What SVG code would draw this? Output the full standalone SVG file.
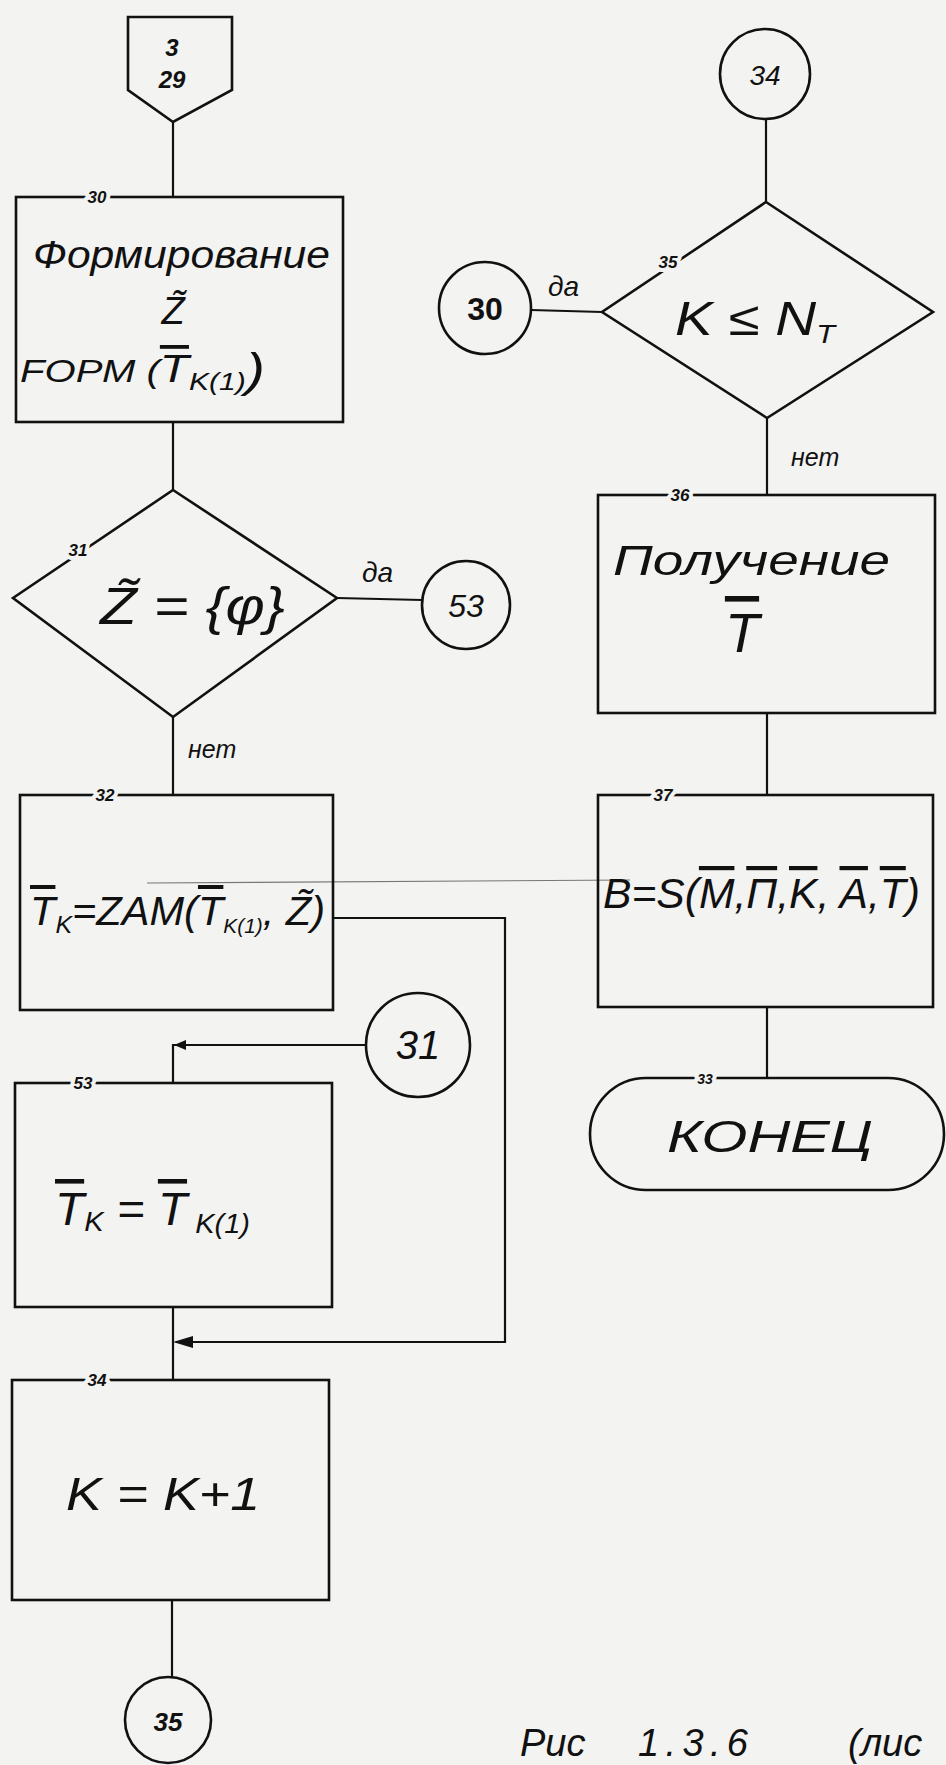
<svg xmlns="http://www.w3.org/2000/svg" width="946" height="1765" viewBox="0 0 946 1765">
<style>
  .bg{fill:#f3f3f1}
  .shape{fill:none;stroke:#111;stroke-width:2.6;stroke-linejoin:miter}
  .line{fill:none;stroke:#111;stroke-width:2.2}
  .stray{fill:none;stroke:#777;stroke-width:1.2}
  text{font-family:"Liberation Sans","DejaVu Sans",sans-serif;font-style:italic;fill:#111}
  .lbl{font-size:17px;font-weight:bold;text-anchor:middle;stroke:#f3f3f1;stroke-width:8px;paint-order:stroke;stroke-linejoin:round}
  .mid{text-anchor:middle}
  .ov{text-decoration:overline}
</style>
<rect class="bg" x="0" y="0" width="946" height="1765"/>

<g id="connectors">
  <line class="line" x1="173" y1="122" x2="173" y2="197"/>
  <line class="line" x1="173" y1="422" x2="173" y2="490"/>
  <line class="line" x1="337" y1="598" x2="422" y2="600"/>
  <line class="line" x1="173" y1="717" x2="173" y2="795"/>
  <path class="line" d="M333,918 H505 V1342 H176"/>
  <path d="M173,1342 L193,1336 L193,1348 Z" fill="#111"/>
  <path class="line" d="M366,1045 H173 V1083"/>
  <path d="M174,1045 L186,1040 L186,1050 Z" fill="#111"/>
  <line class="line" x1="173" y1="1307" x2="173" y2="1380"/>
  <line class="line" x1="172" y1="1600" x2="172" y2="1677"/>
  <line class="line" x1="766" y1="119" x2="766" y2="202"/>
  <line class="line" x1="531" y1="310" x2="602" y2="312"/>
  <line class="line" x1="767" y1="418" x2="767" y2="495"/>
  <line class="line" x1="767" y1="713" x2="767" y2="795"/>
  <line class="line" x1="767" y1="1007" x2="767" y2="1078"/>
  <line class="stray" x1="147" y1="883" x2="630" y2="880"/>
  <text x="362" y="582" font-size="28">да</text>
  <text x="188" y="758" font-size="25">нет</text>
  <text x="548" y="296" font-size="28">да</text>
  <text x="791" y="466" font-size="25">нет</text>
</g>

<g id="n29">
  <path class="shape" d="M128,17 H232 V90 L173,122 L128,90 Z"/>
  <text class="mid" x="172" y="56" font-size="24" font-weight="bold">3</text>
  <text class="mid" x="172" y="88" font-size="24" font-weight="bold">29</text>
</g>

<g id="n30">
  <rect class="shape" x="16" y="197" width="327" height="225"/>
  <text class="lbl" x="97" y="203">30</text>
  <text x="33" y="268" font-size="38" textLength="297" lengthAdjust="spacingAndGlyphs">Формирование</text>
  <text class="mid" x="173" y="324" font-size="38">Z̃</text>
  <text x="20" y="382" font-size="32" textLength="245" lengthAdjust="spacingAndGlyphs">FОРМ (<tspan class="ov" font-size="38">T</tspan><tspan font-size="24" dy="8">K(1)</tspan><tspan font-size="46" dy="-4">)</tspan></text>
</g>

<g id="n31">
  <path class="shape" d="M173,490 L337,598 L173,717 L13,598 Z"/>
  <text class="lbl" x="78" y="556">31</text>
  <text x="100" y="624" font-size="52" textLength="185" lengthAdjust="spacingAndGlyphs">Z̃ = {φ}</text>
</g>

<g id="c53">
  <circle class="shape" cx="466" cy="605" r="44"/>
  <text class="mid" x="466" y="617" font-size="32">53</text>
</g>

<g id="n32">
  <rect class="shape" x="20" y="795" width="313" height="215"/>
  <text class="lbl" x="105" y="801">32</text>
  <text x="30" y="925" font-size="40" textLength="295" lengthAdjust="spacingAndGlyphs"><tspan class="ov">T</tspan><tspan font-size="24" dy="8">K</tspan><tspan dy="-8">=ZAM(</tspan><tspan class="ov">T</tspan><tspan font-size="20" dy="8">K(1)</tspan><tspan dy="-8">, Z̃)</tspan></text>
</g>

<g id="c31">
  <circle class="shape" cx="418" cy="1045" r="52"/>
  <text class="mid" x="418" y="1059" font-size="40">31</text>
</g>

<g id="n53">
  <rect class="shape" x="15" y="1083" width="317" height="224"/>
  <text class="lbl" x="83" y="1089">53</text>
  <text x="55" y="1225" font-size="46" textLength="195" lengthAdjust="spacingAndGlyphs"><tspan class="ov">T</tspan><tspan font-size="28" dy="6">K</tspan><tspan dy="-6"> = </tspan><tspan class="ov">T</tspan><tspan font-size="28" dy="8"> K(1)</tspan></text>
</g>

<g id="n34">
  <rect class="shape" x="12" y="1380" width="317" height="220"/>
  <text class="lbl" x="97" y="1386">34</text>
  <text x="66" y="1510" font-size="46" textLength="194" lengthAdjust="spacingAndGlyphs">K = K+1</text>
</g>

<g id="c35">
  <circle class="shape" cx="168" cy="1720" r="43"/>
  <text class="mid" x="168" y="1731" font-size="26" font-weight="bold">35</text>
</g>

<g id="c34">
  <circle class="shape" cx="765" cy="74" r="45"/>
  <text class="mid" x="765" y="85" font-size="28">34</text>
</g>

<g id="n35">
  <path class="shape" d="M766,202 L933,312 L767,418 L602,312 Z"/>
  <text class="lbl" x="668" y="268">35</text>
  <text x="675" y="335" font-size="48" textLength="160" lengthAdjust="spacingAndGlyphs">K ≤ N<tspan font-size="26" dy="8">T</tspan></text>
</g>

<g id="c30">
  <circle class="shape" cx="485" cy="308" r="46"/>
  <text class="mid" x="485" y="320" font-size="32" font-weight="bold" style="font-style:normal">30</text>
</g>

<g id="n36">
  <rect class="shape" x="598" y="495" width="337" height="218"/>
  <text class="lbl" x="680" y="501">36</text>
  <text x="613" y="575" font-size="42" textLength="277" lengthAdjust="spacingAndGlyphs">Получение</text>
  <text class="mid" x="742" y="652" font-size="56"><tspan class="ov">T</tspan></text>
</g>

<g id="n37">
  <rect class="shape" x="598" y="795" width="335" height="212"/>
  <text class="lbl" x="663" y="801">37</text>
  <text x="603" y="908" font-size="42" textLength="317" lengthAdjust="spacingAndGlyphs">B=S(<tspan class="ov">M</tspan>,<tspan class="ov">П</tspan>,<tspan class="ov">K</tspan>, <tspan class="ov">A</tspan>,<tspan class="ov">T</tspan>)</text>
</g>

<g id="n33">
  <rect class="shape" x="590" y="1078" width="354" height="112" rx="56" ry="56"/>
  <text class="lbl" x="705" y="1084" style="font-size:14px">33</text>
  <text x="667" y="1152" font-size="44" textLength="206" lengthAdjust="spacingAndGlyphs">КОНЕЦ</text>
</g>

<text y="1756" font-size="38"><tspan x="520">Рис</tspan><tspan x="638" textLength="110" lengthAdjust="spacing">1.3.6</tspan><tspan x="848">(лис</tspan></text>
</svg>
